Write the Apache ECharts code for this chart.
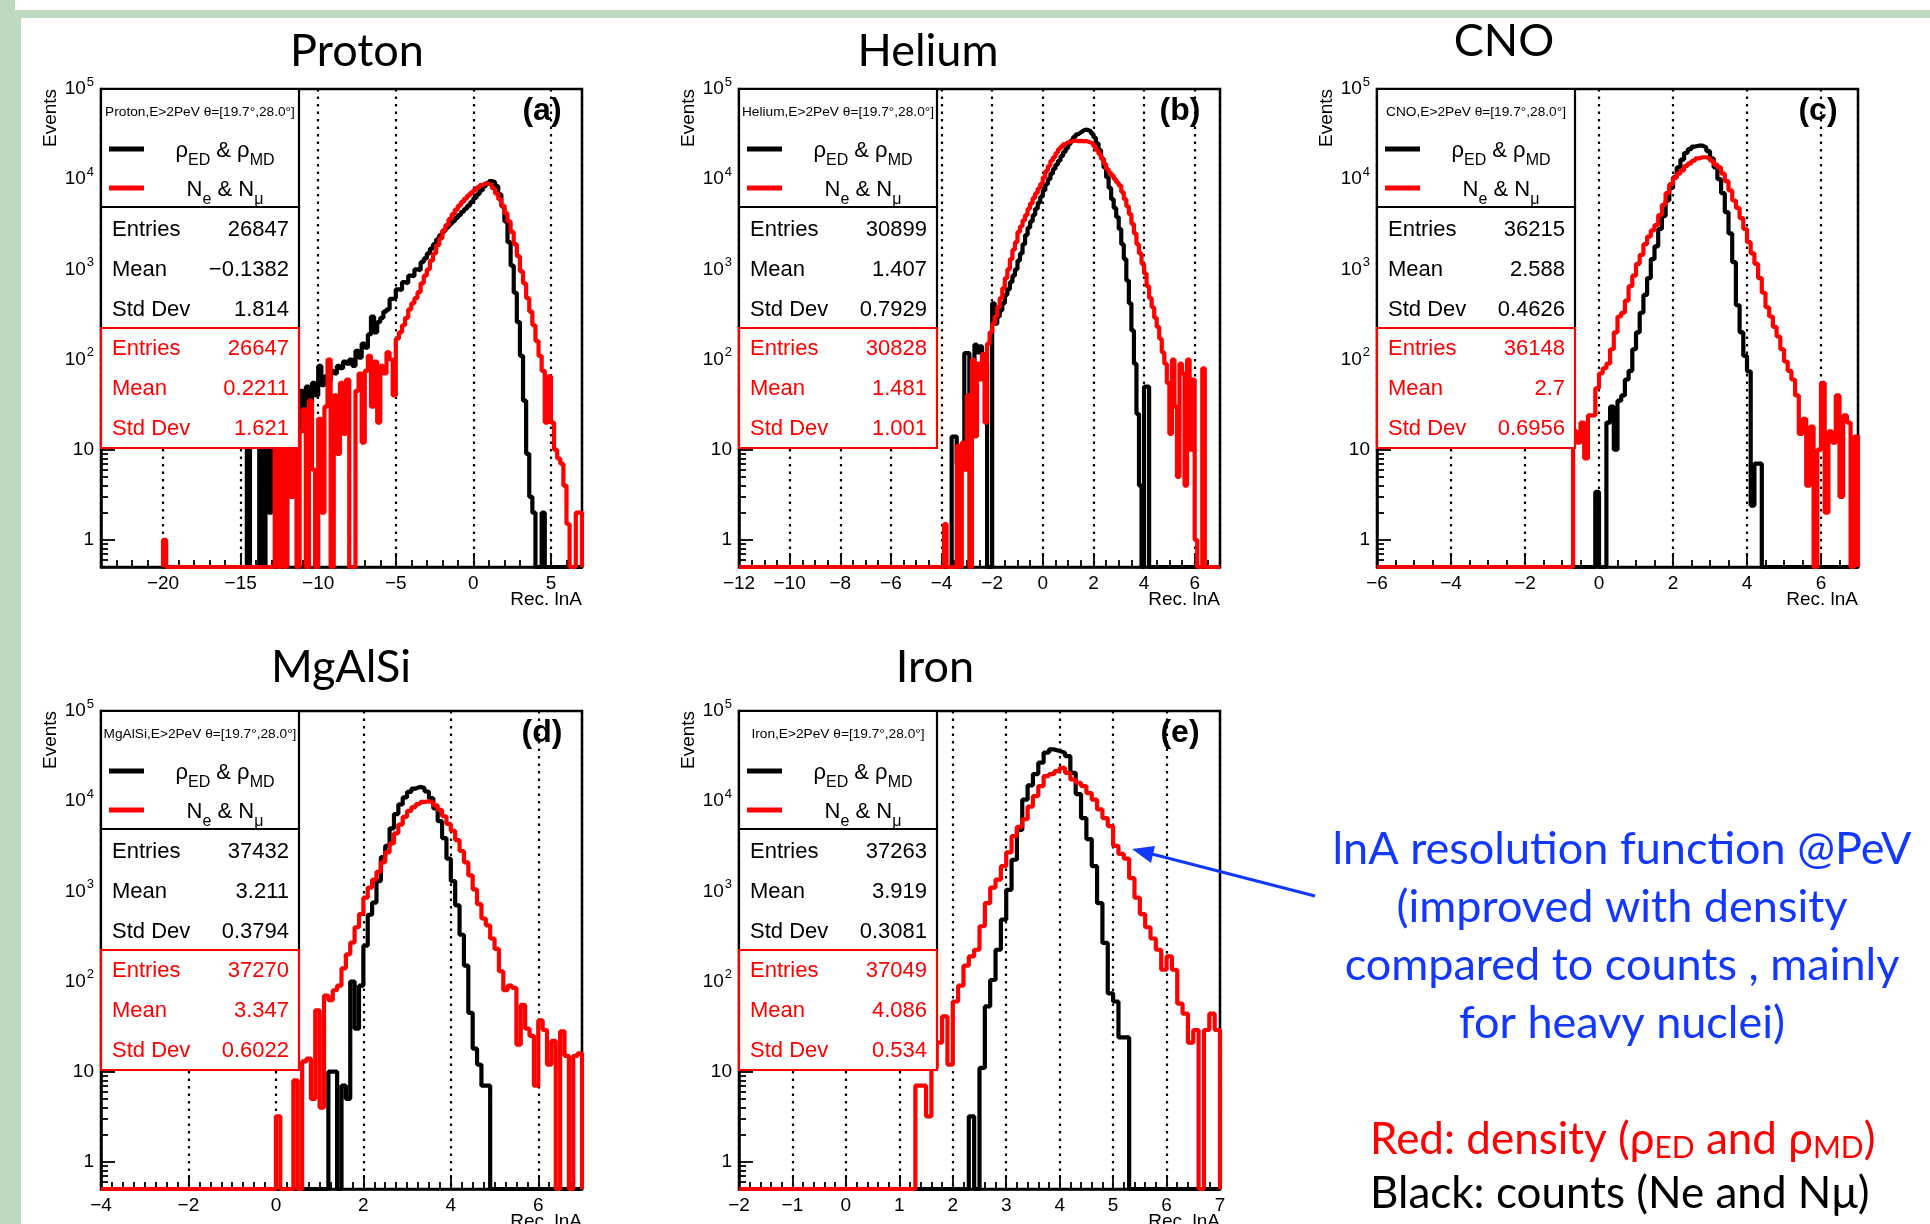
<!DOCTYPE html>
<html>
<head>
<meta charset="utf-8">
<title>lnA resolution function</title>
<script src="https://cdn.jsdelivr.net/npm/echarts@6/dist/echarts.min.js"></script>
<style>
  html, body { margin: 0; padding: 0; background: #fff; }
  #main { width: 1930px; height: 1224px; }
</style>
</head>
<body>
<div id="main"></div>
<script>
// panels: (a) Proton, (b) Helium, (c) CNO, (d) MgAlSi, (e) Iron
var panelNames = ['Proton', 'Helium', 'CNO', 'MgAlSi', 'Iron'];
var panelTags = ['(a)', '(b)', '(c)', '(d)', '(e)'];
var xRanges = [[-24, 7], [-12, 7], [-6, 7], [-4, 7], [-2, 7]];
var xSteps = [5, 2, 2, 2, 1];
var xMinorSplit = [5, 4, 4, 8, 5];
var histLow = [-20, -12, -6, -4, -2];   // left end of each histogram's range
var binWidth = [0.2, 0.1, 0.1, 0.1, 0.1];

var statsLabels = ['Entries', 'Mean', 'Std Dev'];
var statsBlack = [
  ['26847', '\u22120.1382', '1.814'],
  ['30899', '1.407', '0.7929'],
  ['36215', '2.588', '0.4626'],
  ['37432', '3.211', '0.3794'],
  ['37263', '3.919', '0.3081']
];
var statsRed = [
  ['26647', '0.2211', '1.621'],
  ['30828', '1.481', '1.001'],
  ['36148', '2.7', '0.6956'],
  ['37270', '3.347', '0.6022'],
  ['37049', '4.086', '0.534']
];

// first bin (left edge) of each listed array
var blackStart = [-15.0, -3.7, -0.1, 1.1, 2.3];
var redStart = [-20.0, -3.9, -0.7, 0.0, 1.3];

// black = rho_ED & rho_MD, red = Ne & Nmu (bin counts)
var protonBlack = [
  0, 0, 13, 0, 0, 0, 14, 0, 16, 2,
  12, 8, 0, 14, 0, 22, 3, 30, 16, 45,
  24, 50, 34, 55, 40, 85, 52, 65, 58, 75,
  70, 85, 80, 95, 90, 100, 85, 125, 105, 150,
  135, 190, 300, 200, 260, 290, 340, 360, 470, 480,
  600, 590, 720, 700, 850, 840, 1000, 980, 1200, 1320,
  1500, 1700, 1900, 2150, 2400, 2650, 2900, 3150, 3400, 3700,
  4000, 4350, 4700, 5100, 5600, 6200, 6800, 7500, 8300, 9000,
  9500, 9300, 8400, 6800, 5000, 3400, 2000, 1100, 550, 260,
  110, 35, 9, 3, 2, 0, 0, 2, 0
];
var protonRed = [
  1, 0, 0, 0, 0, 0, 0, 0, 0, 0,
  0, 0, 0, 0, 0, 0, 0, 0, 0, 0,
  0, 0, 0, 0, 0, 0, 0, 0, 0, 0,
  0, 0, 0, 0, 0, 0, 12, 0, 15, 0,
  14, 3, 20, 0, 16, 28, 0, 35, 6, 0,
  22, 2, 30, 100, 0, 40, 9, 55, 15, 60,
  0, 0, 45, 70, 12, 75, 110, 30, 95, 20,
  85, 70, 120, 100, 40, 170, 200, 240, 290, 360,
  420, 480, 560, 700, 850, 1000, 1250, 1500, 1850, 2200,
  2700, 3100, 3600, 4100, 4600, 5100, 5600, 6100, 6600, 7100,
  7600, 8100, 8600, 9000, 8900, 8500, 7900, 6900, 6000, 5100,
  4200, 3400, 2600, 1900, 1400, 950, 700, 480, 340, 240,
  160, 110, 75, 20, 65, 20, 10, 8, 7, 4,
  1.5, 0, 0, 2, 2
];
var heliumBlack = [
  0, 14, 14, 7, 7, 7, 118, 118, 8, 60,
  146, 120, 140, 110, 90, 0, 0, 420, 250, 300,
  350, 420, 520, 600, 720, 850, 1000, 1250, 1500, 1900,
  2400, 2900, 3400, 4000, 4700, 5500, 6400, 7500, 8800, 10000,
  11500, 13000, 14500, 16000, 18000, 20000, 22000, 24500, 27000, 29500,
  31500, 33000, 34500, 35500, 35000, 34000, 32000, 29000, 25000, 21000,
  17000, 13500, 10500, 8000, 6000, 4800, 3800, 2800, 1900, 1300,
  750, 420, 210, 90, 25, 4, 0, 50, 50
];
var heliumRed = [
  1.5, 0, 0, 0, 0, 11, 0, 12, 6, 40,
  0, 100, 14, 90, 60, 115, 20, 150, 200, 250,
  300, 380, 480, 620, 800, 1000, 1300, 1650, 2000, 2600,
  3000, 3500, 4000, 4700, 5400, 6200, 7000, 7900, 8900, 10500,
  12300, 14000, 16000, 17500, 19500, 21500, 23000, 24500, 25500, 26000,
  26500, 26800, 26400, 26600, 26300, 26500, 26000, 25500, 24500, 23000,
  21000, 19000, 16800, 14800, 13000, 11800, 11000, 10000, 9200, 8500,
  7200, 6000, 5000, 4100, 3200, 2500, 1900, 1500, 1150, 900,
  650, 480, 380, 290, 230, 170, 120, 90, 55, 15,
  100, 30, 5, 90, 70, 4, 100, 10, 60, 1,
  0, 0, 80
];
var cnoBlack = [
  3.4, 0, 0, 20, 30, 10, 35, 40, 60, 75,
  130, 200, 330, 520, 800, 1300, 1800, 2800, 3900, 5800,
  8000, 10500, 13500, 16500, 19500, 21500, 23000, 23500, 23500, 22500,
  20500, 17000, 13500, 10000, 7000, 4300, 2500, 1200, 400, 200,
  110, 74, 2.4, 7, 7
];
var cnoRed = [
  16, 12, 20, 8, 24, 24, 48, 70, 80, 90,
  130, 200, 300, 330, 450, 650, 850, 1150, 1450, 1900,
  2300, 2700, 3100, 4000, 5200, 7000, 8800, 10300, 11500, 12500,
  14000, 15000, 16000, 17000, 17500, 17500, 17000, 16000, 14500, 13500,
  11500, 9500, 7500, 5800, 4800, 3700, 2800, 2000, 1500, 1150,
  800, 550, 380, 300, 230, 180, 130, 95, 75, 60,
  40, 15, 22, 4, 18, 0, 10, 55, 2, 16,
  12, 40, 3, 24, 20, 0, 14
];
var mgalsiBlack = [
  0, 10, 10, 0, 7, 5, 100, 30, 90, 250,
  550, 750, 1300, 2400, 3200, 5000, 7200, 9200, 11000, 12700,
  13800, 14400, 14000, 12800, 10800, 8300, 6000, 3900, 2300, 1300,
  700, 330, 150, 45, 18, 12, 7, 7
];
var mgalsiRed = [
  3.2, 0, 0, 0, 8, 0, 13, 14, 5, 48,
  4, 70, 62, 80, 90, 140, 200, 270, 400, 560,
  850, 1100, 1350, 1650, 2100, 2700, 3400, 4400, 5500, 6700,
  7800, 8600, 9300, 9800, 10000, 9700, 9000, 8000, 6800, 5600,
  4700, 3700, 2800, 2100, 1500, 1050, 720, 500, 420, 300,
  230, 130, 80, 90, 85, 20, 55, 30, 25, 7,
  37, 29, 12, 22, 0, 28, 15, 0, 15, 16
];
var ironBlack = [
  3.2, 0, 11, 53, 104, 225, 485, 1040, 2240, 4800,
  10400, 15000, 20000, 26700, 34600, 37500, 36000, 34500, 31600, 20600,
  12000, 6500, 3800, 1900, 740, 268, 74, 60, 24, 24
];
var ironRed = [
  7, 7, 3.2, 11, 21, 41, 12, 60, 90, 150,
  190, 225, 410, 740, 1100, 1350, 1900, 2700, 4100, 5200,
  6300, 8700, 11400, 14700, 19000, 20000, 21500, 23400, 20600, 17400,
  16000, 14700, 12300, 10400, 8100, 6500, 5300, 3200, 2600, 2300,
  1400, 850, 560, 400, 300, 225, 135, 190, 135, 57,
  44, 21, 29, 0, 29, 44, 29
];

var blackCounts = [protonBlack, heliumBlack, cnoBlack, mgalsiBlack, ironBlack];
var redCounts = [protonRed, heliumRed, cnoRed, mgalsiRed, ironRed];

var Y_MIN = 0.5, Y_MAX = 1e5;
var gridLeft = [101, 739, 1377, 101, 739];
var gridTop = [89, 89, 89, 711, 711];
var GRID_W = 481, GRID_H = 478;
var titleX = [357, 928, 1504, 341, 935];
var titleY = [51, 51, 41, 667, 667];

var FONT = '"Liberation Sans", Arial, sans-serif';
var SLIDE_FONT = 'Lato, "Open Sans", sans-serif';
var RED = '#ff0000';
var BLUE = '#1238ff';
var GREEN = '#bfd8c0';

// histogram as a step line; empty bins sit on the bottom of the frame
function histLine(start, w, counts, lo, hi) {
  var pts = [[lo, Y_MIN], [start, Y_MIN]];
  for (var i = 0; i < counts.length; i++) {
    pts.push([start + i * w, Math.max(counts[i], Y_MIN)]);
  }
  pts.push([start + counts.length * w, Y_MIN]);
  pts.push([hi, Y_MIN]);
  return pts;
}

function xLabel(step) {
  return function (v) {
    var k = v / step;
    if (Math.abs(k - Math.round(k)) > 1e-6) return '';
    return v < 0 ? '\u2212' + (-v) : String(v);
  };
}

function yLabel(v) {
  var e = Math.round(Math.log10(v));
  if (Math.abs(v - Math.pow(10, e)) > 1e-6 * Math.pow(10, e)) return '';
  if (e === 0) return '1';
  if (e === 1) return '10';
  return '{b|10}{s|' + e + '}';
}

var grids = [], xAxes = [], yAxes = [], series = [], elements = [];

// slide background bands
elements.push({ type: 'rect', z: 1, shape: { x: 0, y: 0, width: 15, height: 18 }, style: { fill: GREEN } });
elements.push({ type: 'rect', z: 1, shape: { x: 15, y: 10, width: 1915, height: 8 }, style: { fill: GREEN } });
elements.push({ type: 'rect', z: 1, shape: { x: 0, y: 18, width: 21, height: 1206 }, style: { fill: GREEN } });

var subRich = {
  m: { fontSize: 22, fontFamily: FONT, fill: '#000' },
  s: { fontSize: 16, fontFamily: FONT, fill: '#000', padding: [20, 0, 0, 0] }
};

for (var p = 0; p < 5; p++) {
  var gl = gridLeft[p], gt = gridTop[p];
  grids.push({
    left: gl, top: gt, width: GRID_W, height: GRID_H,
    containLabel: false, outerBoundsMode: 'none',
    show: true, borderColor: '#000', borderWidth: 2.5
  });
  xAxes.push({
    gridIndex: p, type: 'value',
    min: xRanges[p][0], max: xRanges[p][1],
    minInterval: xSteps[p], maxInterval: xSteps[p],
    axisLine: { show: true, onZero: false, lineStyle: { color: '#000', width: 2.5 } },
    axisTick: { show: true, inside: true, length: 14, lineStyle: { color: '#000', width: 1.8 } },
    minorTick: { show: true, splitNumber: xMinorSplit[p], length: 7, lineStyle: { color: '#000', width: 1.8 } },
    splitLine: { show: true, lineStyle: { color: '#000', width: 2.2, type: [2.5, 5] } },
    axisLabel: {
      formatter: xLabel(xSteps[p]), color: '#000', fontFamily: FONT, fontSize: 19,
      margin: 7, showMinLabel: true, showMaxLabel: true, hideOverlap: false
    },
    name: 'Rec. lnA', nameLocation: 'end', nameGap: 0, nameMoveOverlap: false,
    nameTextStyle: {
      color: '#000', fontFamily: FONT, fontSize: 19,
      align: 'right', verticalAlign: 'top', padding: [23, 0, 0, 0]
    }
  });
  yAxes.push({
    gridIndex: p, type: 'log', logBase: 10, min: Y_MIN, max: Y_MAX,
    axisLine: { show: true, onZero: false, lineStyle: { color: '#000', width: 2.5 } },
    axisTick: { show: true, inside: true, length: 14, lineStyle: { color: '#000', width: 1.8 } },
    minorTick: { show: true, splitNumber: 9, length: 7, lineStyle: { color: '#000', width: 1.8 } },
    splitLine: { show: false },
    axisLabel: {
      formatter: yLabel, color: '#000', fontFamily: FONT, fontSize: 19, margin: 7,
      rich: {
        b: { fontSize: 19, fontFamily: FONT, color: '#000' },
        s: { fontSize: 13, fontFamily: FONT, color: '#000', padding: [0, 0, 14, 1] }
      }
    }
  });

  var lo = histLow[p], hi = xRanges[p][1];
  series.push({
    name: 'ρED & ρMD', type: 'line', xAxisIndex: p, yAxisIndex: p,
    step: 'end', symbol: 'none', clip: false, silent: true, z: 3,
    lineStyle: { color: '#000', width: 4.2 },
    data: histLine(blackStart[p], binWidth[p], blackCounts[p], lo, hi)
  });
  series.push({
    name: 'Ne & Nμ', type: 'line', xAxisIndex: p, yAxisIndex: p,
    step: 'end', symbol: 'none', clip: false, silent: true, z: 4,
    lineStyle: { color: RED, width: 4.2 },
    data: histLine(redStart[p], binWidth[p], redCounts[p], lo, hi)
  });

  // panel title (slide text)
  elements.push({
    type: 'text', z: 100, x: titleX[p], y: titleY[p],
    style: { text: panelNames[p], fontSize: 45, fontFamily: SLIDE_FONT, fill: '#000', align: 'center', verticalAlign: 'middle' }
  });
  // y axis title
  elements.push({
    type: 'text', z: 100, x: gl - 50, y: gt + 29, rotation: Math.PI / 2,
    style: { text: 'Events', fontSize: 19, fontFamily: FONT, fill: '#000', align: 'center', verticalAlign: 'middle' }
  });
  // legend box + stats boxes
  elements.push({ type: 'rect', z: 100, shape: { x: gl, y: gt, width: 198, height: 118 }, style: { fill: '#fff', stroke: '#000', lineWidth: 2.2 } });
  elements.push({ type: 'rect', z: 100, shape: { x: gl, y: gt + 118, width: 198, height: 121 }, style: { fill: '#fff', stroke: '#000', lineWidth: 2.2 } });
  elements.push({ type: 'rect', z: 101, shape: { x: gl, y: gt + 239, width: 198, height: 120 }, style: { fill: '#fff', stroke: RED, lineWidth: 2.2 } });

  elements.push({
    type: 'text', z: 102, x: gl + 99, y: gt + 23,
    style: { text: panelNames[p] + ',E>2PeV θ=[19.7°,28.0°]', fontSize: 13.7, fontFamily: FONT, fill: '#000', align: 'center', verticalAlign: 'middle' }
  });
  elements.push({ type: 'line', z: 102, shape: { x1: gl + 8, y1: gt + 60, x2: gl + 43, y2: gt + 60 }, style: { stroke: '#000', lineWidth: 5 } });
  elements.push({
    type: 'text', z: 102, x: gl + 124, y: gt + 62,
    style: { text: '{m|ρ}{s|ED}{m| & ρ}{s|MD}', rich: subRich, align: 'center', verticalAlign: 'middle' }
  });
  elements.push({ type: 'line', z: 102, shape: { x1: gl + 8, y1: gt + 99, x2: gl + 43, y2: gt + 99 }, style: { stroke: RED, lineWidth: 5 } });
  elements.push({
    type: 'text', z: 102, x: gl + 124, y: gt + 101,
    style: { text: '{m|N}{s|e}{m| & N}{s|μ}', rich: subRich, align: 'center', verticalAlign: 'middle' }
  });

  var rowY = [140.7, 181, 220.7, 260, 300, 340];
  for (var r = 0; r < 3; r++) {
    elements.push({ type: 'text', z: 102, x: gl + 11, y: gt + rowY[r],
      style: { text: statsLabels[r], fontSize: 22, fontFamily: FONT, fill: '#000', align: 'left', verticalAlign: 'middle' } });
    elements.push({ type: 'text', z: 102, x: gl + 188, y: gt + rowY[r],
      style: { text: statsBlack[p][r], fontSize: 22, fontFamily: FONT, fill: '#000', align: 'right', verticalAlign: 'middle' } });
    elements.push({ type: 'text', z: 102, x: gl + 11, y: gt + rowY[r + 3],
      style: { text: statsLabels[r], fontSize: 22, fontFamily: FONT, fill: RED, align: 'left', verticalAlign: 'middle' } });
    elements.push({ type: 'text', z: 102, x: gl + 188, y: gt + rowY[r + 3],
      style: { text: statsRed[p][r], fontSize: 22, fontFamily: FONT, fill: RED, align: 'right', verticalAlign: 'middle' } });
  }
  elements.push({
    type: 'text', z: 102, x: gl + 441, y: gt + 22,
    style: { text: panelTags[p], fontSize: 32, fontWeight: 'bold', fontFamily: FONT, fill: '#000', align: 'center', verticalAlign: 'middle' }
  });
}

// annotation on the right
elements.push({
  type: 'text', z: 100, x: 1622, y: 936,
  style: {
    text: 'lnA resolution function @PeV\n(improved with density\ncompared to counts , mainly\nfor heavy nuclei)',
    fontSize: 45, fontFamily: SLIDE_FONT, fill: BLUE, align: 'center', verticalAlign: 'middle', lineHeight: 58
  }
});
elements.push({ type: 'line', z: 100, shape: { x1: 1315, y1: 896, x2: 1152, y2: 854 }, style: { stroke: BLUE, lineWidth: 3 } });
elements.push({ type: 'polygon', z: 100, shape: { points: [[1132, 849], [1155, 846], [1151, 863]] }, style: { fill: BLUE } });
elements.push({
  type: 'text', z: 100, x: 1370, y: 1140,
  style: {
    text: '{r|Red: density (ρ}{rs|ED}{r| and ρ}{rs|MD}{r|)}',
    align: 'left', verticalAlign: 'middle',
    rich: {
      r: { fontSize: 44, fontFamily: SLIDE_FONT, fill: RED },
      rs: { fontSize: 30, fontFamily: SLIDE_FONT, fill: RED, padding: [16, 0, 0, 0] }
    }
  }
});
elements.push({
  type: 'text', z: 100, x: 1370, y: 1194,
  style: { text: 'Black: counts (Ne and Nμ)', fontSize: 44, fontFamily: SLIDE_FONT, fill: '#000', align: 'left', verticalAlign: 'middle' }
});

var chart = echarts.init(document.getElementById('main'));
chart.setOption({
  backgroundColor: '#fff',
  animation: false,
  tooltip: { show: false },
  grid: grids,
  xAxis: xAxes,
  yAxis: yAxes,
  series: series,
  graphic: { elements: elements }
});
</script>
</body>
</html>
